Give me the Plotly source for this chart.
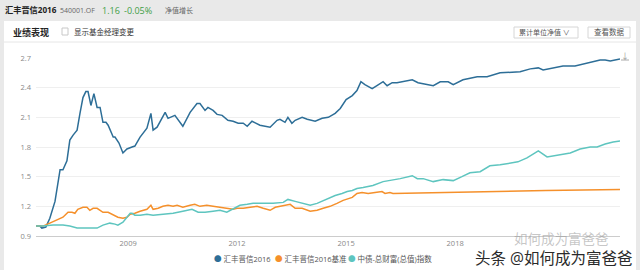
import plotly.graph_objects as go

# ---------------- data ----------------
fund_dates = ["2006-06-20","2006-07-30","2006-08-18","2006-09-27","2006-11-06","2006-12-28",
    "2007-02-17","2007-03-18","2007-04-27","2007-05-26","2007-06-28","2007-08-07","2007-09-05",
    "2007-10-05","2007-11-03","2007-11-25","2007-12-24","2008-01-23","2008-02-24","2008-03-25",
    "2008-04-23","2008-05-23","2008-06-14","2008-08-04","2008-08-22","2008-10-01","2008-11-10",
    "2008-12-20","2009-02-09","2009-03-10","2009-05-01","2009-07-09","2009-08-18","2009-09-09",
    "2009-10-19","2009-11-17","2010-01-08","2010-02-06","2010-04-16","2010-07-05","2010-09-16",
    "2010-11-24","2010-12-24","2011-02-13","2011-03-14","2011-05-05","2011-06-14","2011-08-04",
    "2011-10-01","2011-11-22","2012-01-12","2012-03-03","2012-04-12","2012-05-30","2012-08-18",
    "2012-11-28","2013-02-06","2013-03-07","2013-04-27","2013-05-26","2013-07-05","2013-08-07",
    "2013-10-16","2013-12-06","2014-02-24","2014-05-05","2014-07-06","2014-09-13","2014-11-03",
    "2015-01-01","2015-03-04","2015-04-20","2015-05-30","2015-07-09","2015-09-20","2015-11-07",
    "2016-01-08","2016-02-17","2016-04-08","2016-05-26","2016-07-27","2016-10-27","2016-12-24",
    "2017-05-26","2017-08-04","2017-10-23","2017-12-13","2018-03-21","2018-08-11","2018-11-18",
    "2019-03-29","2019-08-08","2019-10-16","2020-01-26","2020-04-16","2020-06-03","2020-09-13",
    "2020-12-20","2021-04-20","2021-08-19","2021-12-28","2022-02-17","2022-04-09","2022-07-16"]
fund_values = [1.00,1.00,0.98,0.99,1.08,1.25,
    1.57,1.57,1.66,1.87,1.92,1.97,2.14,
    2.30,2.36,2.36,2.22,2.34,2.20,2.20,
    2.05,2.05,2.02,1.90,1.90,1.84,1.74,
    1.78,1.80,1.81,1.90,1.99,2.14,1.97,
    2.00,2.05,2.15,2.09,2.12,2.01,2.15,
    2.24,2.24,2.17,2.20,2.17,2.13,2.12,
    2.07,2.06,2.04,2.04,2.01,2.06,2.02,
    2.00,2.07,2.08,2.05,2.10,2.04,2.07,
    2.10,2.08,2.06,2.09,2.10,2.14,2.19,
    2.28,2.32,2.37,2.46,2.43,2.39,2.42,
    2.46,2.42,2.45,2.45,2.46,2.48,2.45,
    2.42,2.46,2.46,2.43,2.48,2.51,2.51,
    2.55,2.56,2.56,2.59,2.60,2.58,2.60,
    2.62,2.62,2.65,2.68,2.68,2.67,2.69]

bench_dates = ["2006-06-20","2006-08-29","2006-11-06","2007-01-19","2007-03-18","2007-05-08",
    "2007-06-17","2007-07-16","2007-08-14","2007-10-05","2007-11-14","2007-12-13","2008-01-15",
    "2008-02-24","2008-03-25","2008-04-23","2008-06-14","2008-08-04","2008-09-20","2008-11-10",
    "2008-12-20","2009-01-22","2009-03-10","2009-05-01","2009-07-09","2009-08-18","2009-09-09",
    "2009-10-30","2009-12-16","2010-02-06","2010-03-29","2010-05-08","2010-07-05","2010-09-16",
    "2010-11-02","2010-12-24","2011-03-03","2011-05-05","2011-07-13","2011-09-20","2011-11-22",
    "2012-01-01","2012-03-03","2012-05-12","2012-07-20","2012-09-20","2012-11-28","2013-01-19",
    "2013-04-09","2013-06-18","2013-08-07","2013-10-16","2014-01-05","2014-03-15","2014-05-16",
    "2014-07-24","2014-10-01","2014-12-02","2015-03-04","2015-04-20","2015-06-10","2015-08-11",
    "2015-10-19","2015-12-28","2016-01-27","2016-03-17","2016-04-16","2017-07-01","2019-01-01",
    "2020-07-01","2022-07-16"]
bench_values = [1.00,1.00,1.03,1.06,1.09,1.14,
    1.14,1.13,1.17,1.19,1.19,1.16,1.18,
    1.18,1.16,1.14,1.14,1.11,1.09,1.08,
    1.09,1.12,1.13,1.15,1.17,1.21,1.17,
    1.18,1.20,1.21,1.20,1.21,1.19,1.21,
    1.22,1.20,1.21,1.20,1.19,1.18,1.17,
    1.18,1.18,1.19,1.20,1.18,1.16,1.19,
    1.21,1.22,1.18,1.18,1.15,1.16,1.18,
    1.20,1.23,1.26,1.29,1.33,1.34,1.33,
    1.34,1.35,1.33,1.34,1.33,1.34,1.35,
    1.36,1.37]

index_dates = ["2006-06-20","2006-08-29","2006-12-09","2007-03-18","2007-05-26","2007-08-07",
    "2007-10-05","2007-12-13","2008-02-24","2008-04-23","2008-07-01","2008-08-22","2008-09-20",
    "2008-11-10","2008-12-20","2009-01-22","2009-02-09","2009-03-10","2009-05-01","2009-07-09",
    "2009-09-09","2009-12-16","2010-03-29","2010-07-05","2010-10-05","2010-12-06","2011-02-13",
    "2011-05-05","2011-07-13","2011-09-20","2011-11-22","2012-01-30","2012-04-12","2012-06-10",
    "2012-09-20","2012-12-28","2013-04-09","2013-05-26","2013-08-07","2013-10-27","2014-01-05",
    "2014-03-15","2014-05-16","2014-07-24","2014-09-13","2014-11-21","2015-01-12","2015-03-04",
    "2015-04-20","2015-06-21","2015-09-27","2016-01-08","2016-03-17","2016-06-28","2016-10-27",
    "2016-12-17","2017-02-14","2017-05-26","2017-09-02","2017-12-13","2018-03-10","2018-05-30",
    "2018-09-09","2018-12-16","2019-03-29","2019-07-05","2019-09-24","2019-12-24","2020-04-16",
    "2020-07-13","2020-11-20","2021-03-03","2021-06-10","2021-09-20","2021-11-28","2022-02-17",
    "2022-05-08","2022-07-16"]
index_values = [1.00,1.00,1.01,1.01,1.00,0.98,
    0.98,0.98,0.98,1.01,1.03,1.02,1.01,
    1.04,1.09,1.13,1.13,1.11,1.11,1.12,
    1.11,1.12,1.13,1.15,1.17,1.14,1.14,
    1.15,1.16,1.14,1.17,1.21,1.22,1.23,
    1.23,1.23,1.24,1.27,1.25,1.23,1.21,
    1.23,1.26,1.29,1.31,1.33,1.35,1.36,
    1.38,1.39,1.41,1.45,1.46,1.48,1.51,
    1.48,1.48,1.45,1.47,1.46,1.50,1.54,
    1.55,1.61,1.62,1.64,1.65,1.69,1.76,
    1.70,1.72,1.74,1.78,1.80,1.80,1.83,
    1.85,1.86]

series_names = ["汇丰晋信2016", "汇丰晋信2016基准", "中债-总财富(总值)指数"]
series_colors = ["#2d6e97", "#f5902b", "#5ec5bf"]
x_tick_dates = ["2009-01-01", "2012-01-01", "2015-01-01", "2018-01-01"]
x_tick_labels = ["2009", "2012", "2015", "2018"]
y_ticks = [0.9, 1.2, 1.5, 1.8, 2.1, 2.4, 2.7]
y_tick_labels = ["0.9", "1.2", "1.5", "1.8", "2.1", "2.4", "2.7"]

# ---------------- layout helpers ----------------
W, H = 640, 270
ML, MR, MT, MB = 36, 20, 58, 34
PW, PH = W - ML - MR, H - MT - MB
FONT = "Open Sans, Noto Sans CJK SC, sans-serif"


def px(x):
    return (x - ML) / PW


def py(y):
    return (H - MB - y) / PH


fig = go.Figure()
for d, v, name, col in zip([fund_dates, bench_dates, index_dates],
                           [fund_values, bench_values, index_values],
                           series_names, series_colors):
    fig.add_trace(go.Scatter(x=d, y=v, mode="lines", name=name,
                             line=dict(color=col, width=1.5),
                             showlegend=False, hoverinfo="skip"))

shapes = [
    dict(type="rect", xref="paper", yref="paper", x0=px(4), x1=px(636), y0=py(270), y1=py(21),
         fillcolor="white", line=dict(width=0), layer="below"),
    dict(type="line", xref="paper", yref="paper", x0=px(4), x1=px(636), y0=py(42), y1=py(42),
         line=dict(color="#e6e6e6", width=1)),
    dict(type="rect", xref="paper", yref="paper", x0=px(62), x1=px(68), y0=py(35), y1=py(28),
         fillcolor="white", line=dict(color="#c8c8c8", width=1)),
    dict(type="rect", xref="paper", yref="paper", x0=px(514), x1=px(578), y0=py(38), y1=py(27),
         fillcolor="white", line=dict(color="#d6d6d6", width=1)),
    dict(type="rect", xref="paper", yref="paper", x0=px(588), x1=px(630), y0=py(38), y1=py(27),
         fillcolor="white", line=dict(color="#d6d6d6", width=1)),
    dict(type="line", xref="paper", yref="paper", x0=px(621), x1=px(629), y0=py(60), y1=py(60),
         line=dict(color="#aaa", width=1)),
]


def ann(text, x, y, size, color, xanchor="left", **kw):
    f = dict(family=FONT, size=size, color=color)
    f.update(kw.pop("font_extra", {}))
    return dict(text=text, x=px(x), y=py(y), xref="paper", yref="paper",
                xanchor=xanchor, yanchor="middle", showarrow=False, font=f, **kw)


annotations = [
    ann("<b>汇丰晋信2016</b>", 3, 9, 8.2, "#222"),
    ann("540001.OF", 58, 10, 7, "#666"),
    ann("1.16", 100, 10, 9, "#3f9e46"),
    ann("-0.05%", 122, 10, 9, "#3f9e46"),
    ann("净值增长", 163, 10, 7, "#666"),
    ann("<b>业绩表现</b>", 11, 32, 9, "#222"),
    ann("显示基金经理变更", 72, 32, 7.5, "#333"),
    ann("累计单位净值 ∨", 517, 32.5, 7, "#555"),
    ann("查看数据", 609, 32.5, 7.5, "#555", xanchor="center"),
    ann("↓", 625, 55, 8, "#999", xanchor="center"),
    ann('<span style="color:%s">●</span> %s' % (series_colors[0], series_names[0]), 212, 259, 7.5, "#555"),
    ann('<span style="color:%s">●</span> %s' % (series_colors[1], series_names[1]), 273, 259, 7.5, "#555"),
    ann('<span style="color:%s">●</span> %s' % (series_colors[2], series_names[2]), 346, 259, 7.5, "#555"),
    ann("如何成为富爸爸", 512, 239, 13.5, "rgba(150,150,150,0.55)"),
    ann("头条 @如何成为富爸爸", 634, 258, 15.5, "#2a2a2a", xanchor="right",
        font_extra=dict(shadow="0px 0px 2px #ffffff")),
]

fig.update_layout(
    width=W, height=H,
    margin=dict(l=ML, r=MR, t=MT, b=MB, pad=0),
    paper_bgcolor="#e9e9e9",
    plot_bgcolor="white",
    font=dict(family=FONT, size=8, color="#888"),
    showlegend=False,
    shapes=shapes,
    annotations=annotations,
    xaxis=dict(type="date", range=[fund_dates[0], fund_dates[-1]],
               tickvals=x_tick_dates, ticktext=x_tick_labels,
               showgrid=False, zeroline=False, showline=True, linecolor="#cccccc", linewidth=1,
               ticks="", tickfont=dict(family=FONT, size=7.5, color="#888")),
    yaxis=dict(range=[0.9, 2.7], tickvals=y_ticks, ticktext=y_tick_labels,
               showgrid=True, gridcolor="#efefef", gridwidth=1, zeroline=False, showline=False,
               ticks="", ticklabelstandoff=4, tickfont=dict(family=FONT, size=7.5, color="#888")),
)

fig.write_html("out.html")
